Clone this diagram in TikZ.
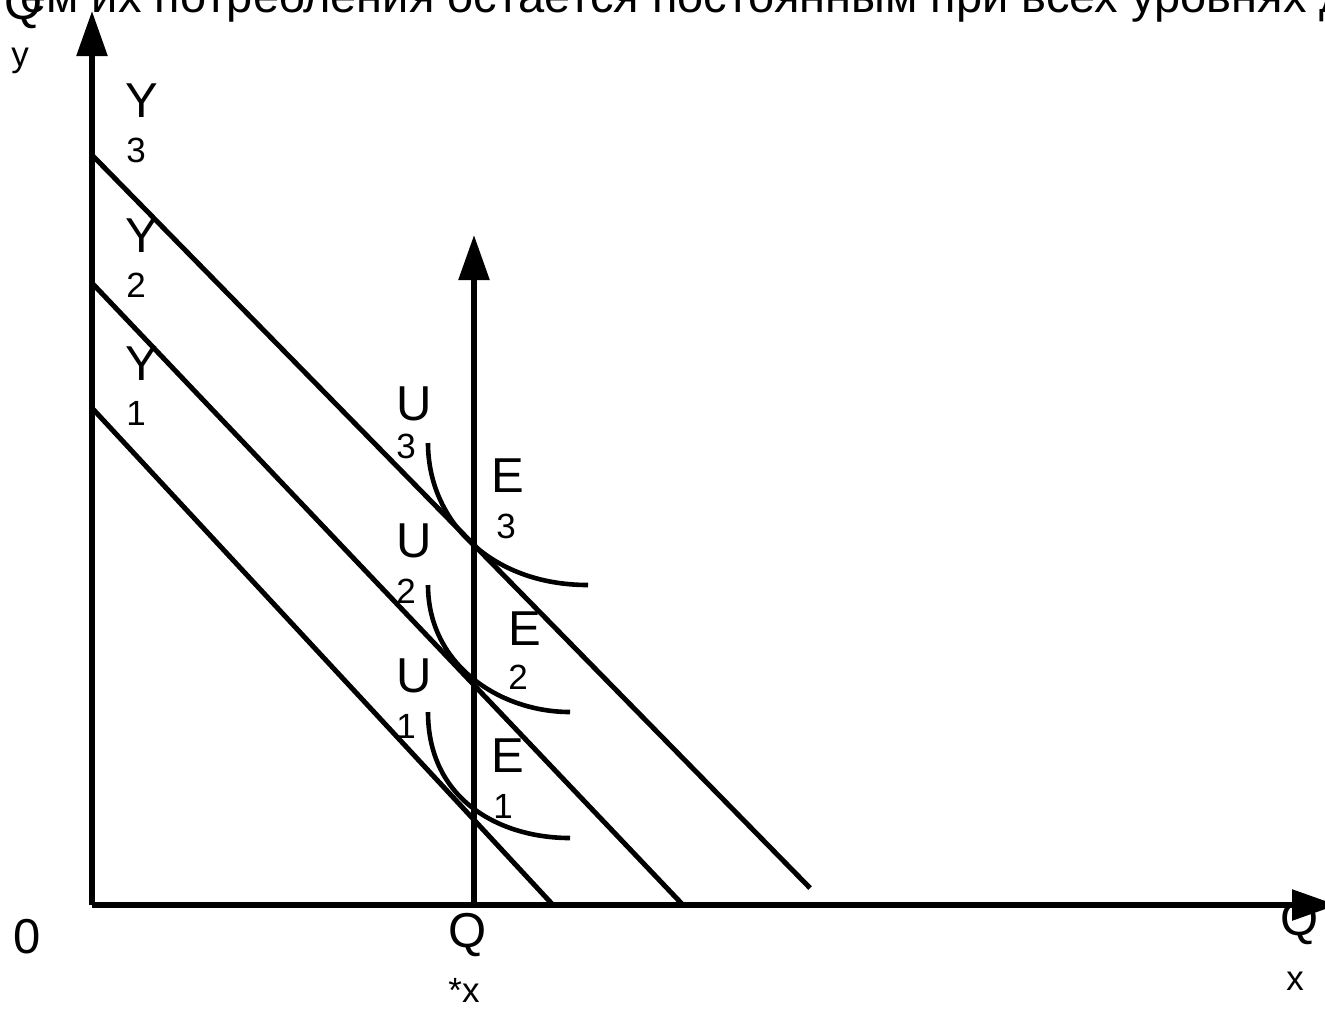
\documentclass[tikz,border=0pt]{standalone}
\usepackage{fontspec}
\setmainfont{Liberation Sans}
\usepackage{tikz}
\usetikzlibrary{arrows.meta}

\tikzset{
  lbl/.style={anchor=base west, inner sep=0pt, font=\fontsize{24.5}{29}\selectfont},
  sub/.style={anchor=base west, inner sep=0pt, font=\fontsize{17.5}{21}\selectfont},
  axis/.style={line width=2.8pt, -{Triangle[length=22.5pt, width=15pt]}},
  budget/.style={line width=2.5pt},
  icurve/.style={line width=2.3pt}
}

\begin{document}
\begin{tikzpicture}[x=0.5pt, y=-0.5pt]
\useasboundingbox (0,0) rectangle (1325,1008);

% testo tagliato in alto
\node[lbl, font=\fontsize{23.5}{28}\selectfont] (title) at (20,12) {ем их потребления остается постоянным при всех уровнях д};

% assi
\coordinate (O) at (92,905);
\coordinate (ytip) at (92,11);
\coordinate (xtip) at (1337,905);
\coordinate (qx) at (474,905);
\coordinate (qtip) at (474,235);
\draw[axis] (O) -- (ytip);
\draw[axis] (O) -- (xtip);
\draw[axis] (qx) -- (qtip);

% rette di bilancio
\coordinate (b3) at (92,155);  \coordinate (e3) at (810,888);
\coordinate (b2) at (92,283);  \coordinate (e2) at (683,905);
\coordinate (b1) at (92,408);  \coordinate (e1) at (553,905);
\draw[budget] (b3) -- (e3);
\draw[budget] (b2) -- (e2);
\draw[budget] (b1) -- (e1);

% curve di indifferenza
\coordinate (u3s) at (428,443);
\coordinate (u3e) at (588,585);
\coordinate (u2s) at (428,585);
\coordinate (u2e) at (570,712);
\coordinate (u1s) at (428,712);
\coordinate (u1e) at (570,838);
\draw[icurve] (u3s) .. controls (428,520) and (490,585) .. (u3e);
\draw[icurve] (u2s) .. controls (428,665) and (500,712) .. (u2e);
\draw[icurve] (u1s) .. controls (428,800) and (500,838) .. (u1e);

% etichette
\node[lbl] (Qy) at (4,19) {Q};
\node[sub] (Qyn) at (11,66) {y};
\foreach \n/\yb in {3/117, 2/252, 1/380}{
    \node[lbl] (Y\n) at (125,\yb) {Y};
    \node[sub] (Y\n n) at (126,\yb+45) {\n};
}
\foreach \n/\yb/\nb in {3/420/458, 2/557/603, 1/692/738}{
    \node[lbl] (U\n) at (396,\yb) {U};
    \node[sub] (U\n n) at (396,\nb) {\n};
}
\foreach \n/\ex/\yb/\nx/\nb in {3/491/492/496/538, 2/508/645/508/689, 1/491/772/493/818}{
    \node[lbl] (E\n) at (\ex,\yb) {E};
    \node[sub] (E\n n) at (\nx,\nb) {\n};
}
\node[lbl] (zero) at (13,953) {0};
\node[lbl] (Qs) at (448,947) {Q};
\node[sub] (Qsn) at (448,1002) {*x};
\node[lbl] (Qx) at (1280,935) {Q};
\node[sub] (Qxn) at (1286,990) {x};
\end{tikzpicture}
\end{document}
